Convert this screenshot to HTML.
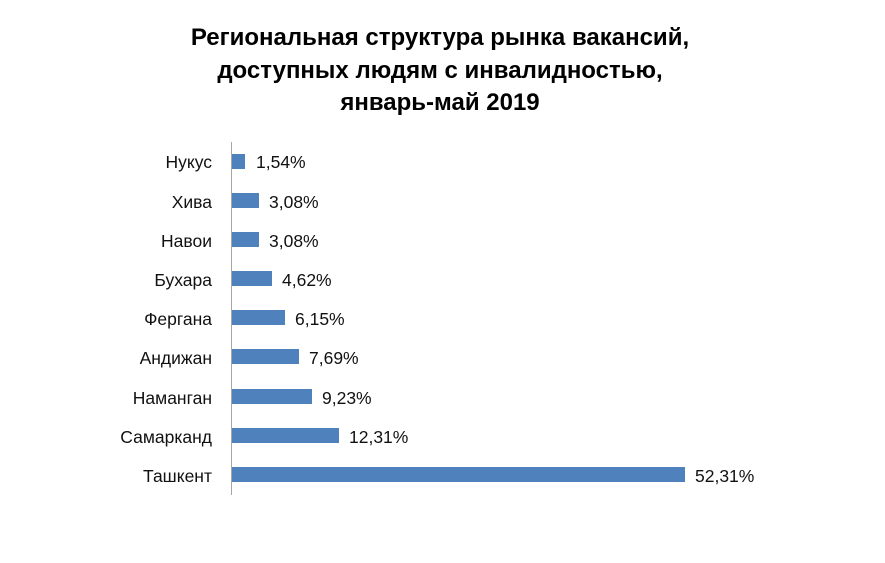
<!DOCTYPE html>
<html><head><meta charset="utf-8"><style>
body{margin:0;background:#fff;}
</style></head><body>
<svg width="885" height="558" xmlns="http://www.w3.org/2000/svg" font-family="Liberation Sans, DejaVu Sans, sans-serif">
<rect width="885" height="558" fill="#fff"/>
<g font-weight="bold" font-size="24" text-anchor="middle" fill="#000">
<text x="440" y="45">Региональная структура рынка вакансий,</text>
<text x="440" y="78">доступных людям с инвалидностью,</text>
<text x="440" y="110">январь-май 2019</text>
</g>
<line x1="231.5" y1="142" x2="231.5" y2="495" stroke="#a6a6a6" stroke-width="1"/>
<g font-size="17.5" fill="#111">
<g text-anchor="end" textLength="0">
<text x="212" y="168">Нукус</text>
<text x="212" y="208">Хива</text>
<text x="212" y="247">Навои</text>
<text x="212" y="286">Бухара</text>
<text x="212" y="325">Фергана</text>
<text x="212" y="364">Андижан</text>
<text x="212" y="404">Наманган</text>
<text x="212" y="443">Самарканд</text>
<text x="212" y="482">Ташкент</text>
</g>
<g fill="#4f81bd">
<rect x="232" y="154" width="13" height="15"/>
<rect x="232" y="193" width="27" height="15"/>
<rect x="232" y="232" width="27" height="15"/>
<rect x="232" y="271" width="40" height="15"/>
<rect x="232" y="310" width="53" height="15"/>
<rect x="232" y="349" width="67" height="15"/>
<rect x="232" y="389" width="80" height="15"/>
<rect x="232" y="428" width="107" height="15"/>
<rect x="232" y="467" width="453" height="15"/>
</g>
<text x="256" y="168">1,54%</text>
<text x="269" y="208">3,08%</text>
<text x="269" y="247">3,08%</text>
<text x="282" y="286">4,62%</text>
<text x="295" y="325">6,15%</text>
<text x="309" y="364">7,69%</text>
<text x="322" y="404">9,23%</text>
<text x="349" y="443">12,31%</text>
<text x="695" y="482">52,31%</text>
</g>
</svg>
</body></html>
